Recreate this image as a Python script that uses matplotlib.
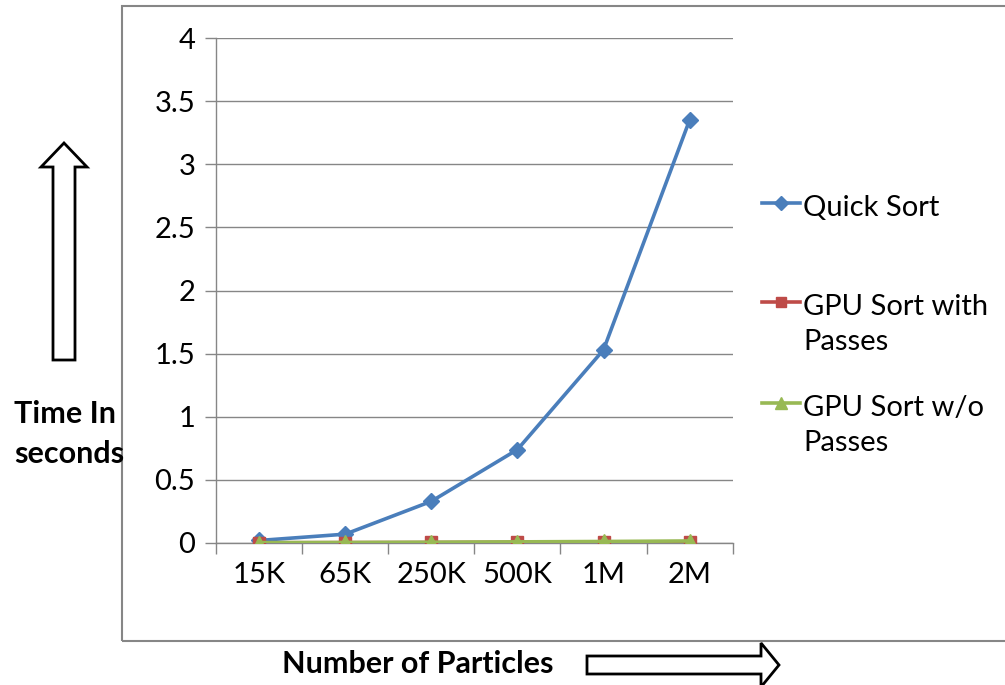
import numpy as np
import matplotlib
matplotlib.use("Agg")
import matplotlib.pyplot as plt
from matplotlib.lines import Line2D
from matplotlib.patches import FancyArrow, Rectangle

plt.rcParams['font.family'] = ['Lato', 'DejaVu Sans']

# data
categories = ["15K", "65K", "250K", "500K", "1M", "2M"]
quick_sort = [0.02, 0.07, 0.33, 0.74, 1.53, 3.35]
gpu_with_passes = [0.002, 0.003, 0.004, 0.006, 0.008, 0.010]
gpu_without_passes = [0.003, 0.004, 0.006, 0.009, 0.012, 0.016]
y_ticks = [0, 0.5, 1, 1.5, 2, 2.5, 3, 3.5, 4]

grid_gray = '#868686'
fs = 21
fs_title = 22

fig = plt.figure(figsize=(10.05, 6.85), dpi=100)
ax = fig.add_axes([0.215, 0.2073, 0.514, 0.7372])

x = np.arange(len(categories))
series = [
    ("Quick Sort", quick_sort, '#4A7EBB', 'D', 8),
    ("GPU Sort with\nPasses", gpu_with_passes, '#BE4B48', 's', 9),
    ("GPU Sort w/o\nPasses", gpu_without_passes, '#98B954', '^', 10),
]
for i, (name, vals, col, mk, ms) in enumerate(series):
    ax.plot(x, vals, color=col, lw=2.6, marker=mk, ms=ms, zorder=3 + i)

ax.set_xlim(-0.5, len(categories) - 0.5)
ax.set_ylim(0, 4)
ax.set_yticks(y_ticks)
ax.set_yticklabels([f"{t:g}" for t in y_ticks], fontsize=fs)
ax.set_xticks(x)
ax.set_xticklabels(categories, fontsize=fs)
ax.set_xticks(np.arange(len(categories) + 1) - 0.5, minor=True)
ax.tick_params(axis='x', which='major', length=0, pad=14)
ax.tick_params(axis='x', which='minor', length=8, width=1, color=grid_gray, direction='out')
ax.tick_params(axis='y', length=8, width=1, color=grid_gray, pad=7)

ax.grid(axis='y', color=grid_gray, lw=1)
ax.set_axisbelow(True)
for s in ['top', 'right']:
    ax.spines[s].set_visible(False)
for s in ['left', 'bottom']:
    ax.spines[s].set_color(grid_gray)
    ax.spines[s].set_linewidth(1)

# legend, handle beside the first line of each label (pixel positions from top)
legend_rows = [203, 302, 403]
for (name, vals, col, mk, ms), row in zip(series, legend_rows):
    yf = 1 - row / 685
    fig.add_artist(Line2D([762 / 1005, 800 / 1005], [yf, yf], color=col, lw=2.6))
    fig.add_artist(Line2D([781 / 1005], [yf], color=col, marker=mk, ms=ms * 0.85, lw=0))
    fig.text(803 / 1005, yf + 0.012, name, fontsize=fs, ha='left', va='top',
             linespacing=1.45, transform=fig.transFigure)

# outer chart border
fig.patches.append(Rectangle((122 / 1005, 1 - 641 / 685), 0.9, (641 - 6) / 685,
                             transform=fig.transFigure, fill=False, ec=grid_gray, lw=1.5, zorder=0))

# axis titles with outline arrows
fig.text(14 / 1005, 1 - 434 / 685, "Time In\nseconds", fontsize=fs_title, fontweight='bold',
         ha='left', va='center', linespacing=1.5, zorder=5)
fig.text(418 / 1005, 1 - 664 / 685, "Number of Particles", fontsize=fs_title, fontweight='bold',
         ha='center', va='center')

tr = fig.dpi_scale_trans
fig.patches.append(FancyArrow(0.64, (685 - 360) / 100, 0, 2.17, width=0.22, head_width=0.46,
                              head_length=0.24, length_includes_head=True, transform=tr,
                              fc='white', ec='black', lw=2))
fig.patches.append(FancyArrow(5.87, (685 - 665) / 100, 1.92, 0, width=0.18, head_width=0.44,
                              head_length=0.18, length_includes_head=True, transform=tr,
                              fc='white', ec='black', lw=2))

fig.savefig("out.png", dpi=100)
